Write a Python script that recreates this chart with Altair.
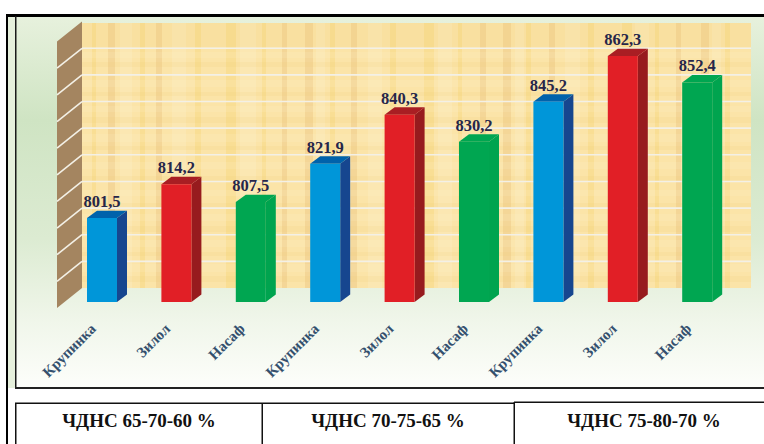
import altair as alt
import pandas as pd

# Measured grain volume per variety and nutrient regime
varieties = ["Крупинка", "Зилол", "Насаф"] * 3
values = [801.5, 814.2, 807.5, 821.9, 840.3, 830.2, 845.2, 862.3, 852.4]
regimes = ["ЧДНС 65-70-60 %", "ЧДНС 70-75-65 %", "ЧДНС 75-80-70 %"]
front_colors = ["#0096d9", "#e11f26", "#00a651"]
side_colors = ["#16468f", "#971b1e", "#00a44f"]
top_colors = ["#0062ab", "#a91e23", "#00a651"]
wall_ticks = [770, 780, 790, 800, 810, 820, 830, 840, 850, 860, 870]
regime_centres = [139, 388, 644]

# Parchment fibres: left edge and width of each vertical streak, top and
# height of each horizontal one, placed by hand
tan_streaks = [(108, 7), (156, 6), (282, 5), (305, 8), (351, 6), (480, 6), (503, 8), (549, 6), (676, 5), (701, 8)]
gold_streaks = [(92, 4), (140, 5), (195, 6), (226, 10), (262, 4), (330, 5), (390, 6), (424, 10), (458, 4), (526, 5), (588, 6), (622, 10), (655, 4), (725, 5)]
pale_streaks = [(120, 12), (172, 14), (240, 16), (316, 9), (368, 14), (438, 14), (515, 9), (565, 15), (635, 14), (712, 9)]
gold_bands = [(23, 24), (62, 5), (92, 4), (117, 6), (146, 4), (176, 5), (203, 4), (226, 6), (252, 4), (276, 6)]
pale_bands = [(52, 6), (80, 7), (106, 6), (134, 8), (162, 7), (190, 6), (214, 7), (240, 7), (264, 8)]

BASE = 770
HALF = 0.2016    # half a bar's width, in category units
DX = 0.1344      # sideways depth of a bar, in category units
DY = 2.8         # upward depth of a bar, in value units
WALL_BACK = 5.25   # lift of the back wall over the bar baseline
WALL_FRONT = -2.25 # drop of the wall's near edge
NAME_SHIFT = 0.06  # category names end a little left of the bar's centre

x_scale = alt.Scale(domain=[0, 8], range=[102, 697.2], nice=False, zero=False)
y_scale = alt.Scale(domain=[770, 870], range=[302, 35.6], nice=False, zero=False)


def cat(px):
    """Convert a horizontal pixel position to category units."""
    return (px - 102) / 74.4


def X(field):
    return alt.X(field, type="quantitative", scale=x_scale, axis=None)


def Y(field):
    return alt.Y(field, type="quantitative", scale=y_scale, axis=None)


def panel(x0, x1, y0, y1, **mark):
    """A fixed rectangle of the page furniture, in pixels."""
    return alt.Chart(pd.DataFrame({"k": [0]})).mark_rect(**mark).encode(
        x=alt.value(x0), x2=alt.value(x1), y=alt.value(y0), y2=alt.value(y1)
    )


def streaks(spans, colour, opacity):
    """Vertical fibre bands across the parchment."""
    df = pd.DataFrame({"s": [cat(a) for a, _ in spans],
                       "s2": [cat(a + w) for a, w in spans]})
    return alt.Chart(df).mark_rect(color=colour, opacity=opacity).encode(
        x=X("s"), x2="s2:Q", y=alt.value(23), y2=alt.value(288),
    )


bars = pd.DataFrame({
    "i": range(9),
    "v": values,
    "name": varieties,
    "base": BASE,
    "left": [i - HALF for i in range(9)],
    "right": [i + HALF for i in range(9)],
    "name_x": [i - NAME_SHIFT for i in range(9)],
    "front": [front_colors[i % 3] for i in range(9)],
    "label": [f"{v:.1f}".replace(".", ",") for v in values],
})

# Side and top faces are areas spanned between the two corners of each bar
side_rows, top_rows = [], []
for i, v in enumerate(values):
    side_rows.append({"b": i, "x": i + HALF, "y": v, "y2": BASE, "c": side_colors[i % 3]})
    side_rows.append({"b": i, "x": i + HALF + DX, "y": v + DY, "y2": BASE + DY, "c": side_colors[i % 3]})
    top_rows.append({"b": i, "y": v, "x": i - HALF, "x2": i + HALF, "c": top_colors[i % 3]})
    top_rows.append({"b": i, "y": v + DY, "x": i - HALF + DX, "x2": i + HALF + DX, "c": top_colors[i % 3]})
side = pd.DataFrame(side_rows)
top = pd.DataFrame(top_rows)

# Page background and frames
green = alt.Gradient(
    gradient="linear", x1=0, x2=0, y1=0, y2=1,
    stops=[
        alt.GradientStop(color="#e7f1dd", offset=0),
        alt.GradientStop(color="#cfe4c3", offset=0.28),
        alt.GradientStop(color="#dcebd2", offset=0.6),
        alt.GradientStop(color="#f0f6ea", offset=0.82),
        alt.GradientStop(color="#fdfefb", offset=1),
    ],
)
page = panel(15, 764, 16, 388, color=green)
outer_top = panel(7, 764, 14, 17, color="#000000")
outer_left = panel(6, 8, 14, 444, color="#000000")
inner_left = panel(15, 16.5, 16, 388, color="#1a1a1a")
inner_bottom = panel(15, 764, 387, 389, color="#222222")
margin = panel(8, 15, 17, 388, color="#e6f0dc")

# Parchment back wall
paper = panel(82, 751, 23, 288, color="#fbe4a8")
paper_layers = [
    paper,
    streaks(gold_streaks, "#f3c94e", 0.22),
    streaks(tan_streaks, "#dca45c", 0.22),
    streaks(pale_streaks, "#fdf0cc", 0.28),
]
paper_layers += [panel(82, 751, t, t + h, color="#f0c660", opacity=0.1) for t, h in gold_bands]
paper_layers += [panel(82, 751, t, t + h, color="#fdf0cc", opacity=0.16) for t, h in pale_bands]

grid_df = pd.DataFrame({"t": wall_ticks[1:-1]})
grid_df["yb"] = grid_df["t"] + WALL_BACK
grid_df["x1"] = cat(82)
grid_df["x2"] = cat(751)
grid = alt.Chart(grid_df).mark_rule(color="#f3f0e6", strokeWidth=1.6).encode(
    x=X("x1"), x2="x2:Q", y=Y("yb")
)

# Side wall on the left, with its slanted division lines
wall_df = pd.DataFrame({
    "x": [cat(57), cat(82)],
    "y": [870 + WALL_FRONT, 870 + WALL_BACK],
    "y2": [770 + WALL_FRONT, 770 + WALL_BACK],
})
wall = alt.Chart(wall_df).mark_area(color="#a48560", orient="vertical").encode(
    x=X("x"), y=Y("y"), y2="y2:Q"
)
slant_df = pd.DataFrame({"t": wall_ticks[1:-1]})
slant_df["xa"] = cat(57)
slant_df["xb"] = cat(82)
slant_df["ya"] = slant_df["t"] + WALL_FRONT
slant_df["yb"] = slant_df["t"] + WALL_BACK
slants = alt.Chart(slant_df).mark_rule(color="#f3f0e6", strokeWidth=1.6).encode(
    x=X("xa"), x2="xb:Q", y=Y("ya"), y2="yb:Q"
)

# The three-dimensional columns
side_faces = alt.Chart(side).mark_area(orient="vertical").encode(
    x=X("x"), y=Y("y"), y2="y2:Q",
    color=alt.Color("c:N", scale=None), detail="b:N",
)
top_faces = alt.Chart(top).mark_area(orient="horizontal").encode(
    y=Y("y"), x=X("x"), x2="x2:Q",
    color=alt.Color("c:N", scale=None), detail="b:N",
)
front_faces = alt.Chart(bars).mark_rect().encode(
    x=X("left"), x2="right:Q", y=Y("v"), y2="base:Q",
    color=alt.Color("front:N", scale=None),
)

value_labels = alt.Chart(bars).mark_text(
    font="Liberation Serif", fontWeight="bold", fontSize=16.5,
    color="#26264a", baseline="alphabetic", dy=-11,
).encode(x=X("i"), y=Y("v"), text="label:N")

name_labels = alt.Chart(bars).mark_text(
    font="Liberation Serif", fontWeight="bold", fontSize=15,
    color="#34506e", align="right", baseline="middle", angle=315, dx=-6,
).encode(x=X("name_x"), y=alt.value(322), text="name:N")

# Regime table under the plot
table_lines = [
    panel(15, 16.5, 403, 444, color="#111111"),
    panel(15, 514, 402.5, 404, color="#111111"),
    panel(514, 764, 401.5, 403, color="#111111"),
    panel(261.5, 263, 403, 444, color="#111111"),
    panel(513.5, 515, 402, 444, color="#111111"),
]
table_df = pd.DataFrame({"regime": regimes, "pos": [cat(p) for p in regime_centres]})
table_text = alt.Chart(table_df).mark_text(
    font="Liberation Serif", fontWeight="bold", fontSize=19, color="#111111",
    baseline="middle",
).encode(x=X("pos"), y=alt.value(420.5), text="regime:N")

chart = alt.layer(
    page, margin, *paper_layers, grid, wall, slants,
    side_faces, top_faces, front_faces, value_labels, name_labels,
    outer_top, outer_left, inner_left, inner_bottom,
    *table_lines, table_text,
).resolve_scale(color="independent").properties(
    width=764, height=444, padding=0, autosize=alt.AutoSizeParams(type="none"),
    background="#ffffff",
).configure_view(stroke=None)

chart.save("out.html", embed_options={"renderer": "svg", "actions": False})
